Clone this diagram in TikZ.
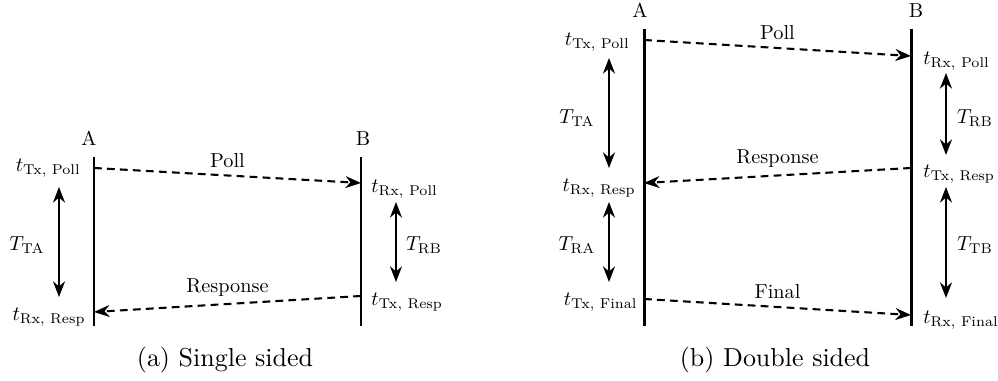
\documentclass[tikz,border=0pt]{standalone}
\usepackage{amsmath}
\usetikzlibrary{arrows.meta}
\tikzset{
  lifeline/.style={line width=1.15pt},
  msgarrow/.style={-{Stealth[length=6pt,width=4.6pt]}, line width=0.8pt, dash pattern=on 3pt off 2pt},
  spanarrow/.style={{Stealth[length=6pt,width=4.6pt]}-{Stealth[length=6pt,width=4.6pt]}, line width=0.9pt},
  lbl/.style={inner sep=0pt, font=\normalsize, scale=0.78},
  capt/.style={inner sep=0pt, anchor=base, font=\normalsize}
}

\begin{document}
\begin{tikzpicture}[x=0.385pt, y=-0.385pt]
\useasboundingbox (0,0) rectangle (998,381);

% (a) single sided
\draw[lifeline] (94,157) coordinate (aAtop) -- (94,326) coordinate (aAbot);
\draw[lifeline] (361,157) coordinate (aBtop) -- (361,326) coordinate (aBbot);
\node[lbl, anchor=base] (aA) at (89,146) {A};
\node[lbl, anchor=base] (aB) at (363,146) {B};

\coordinate (aTxPoll) at (94,168);
\coordinate (aRxPoll) at (361,183);
\coordinate (aTxResp) at (361,296);
\coordinate (aRxResp) at (94,312);

\draw[msgarrow] (aTxPoll) -- (aRxPoll) node[lbl, pos=0.5, above=3.5pt] (aPoll) {Poll};
\draw[msgarrow] (aTxResp) -- (aRxResp) node[lbl, pos=0.5, above=3.5pt] (aResp) {Response};

\node[lbl, anchor=east] (aTxPollL) at (81,168) {$t_{\text{Tx, Poll}}$};
\node[lbl, anchor=west] (aRxPollL) at (371,189) {$t_{\text{Rx, Poll}}$};
\node[lbl, anchor=west] (aTxRespL) at (371,302) {$t_{\text{Tx, Resp}}$};
\node[lbl, anchor=east] (aRxRespL) at (86,317) {$t_{\text{Rx, Resp}}$};

\coordinate (aTAtop) at (59,187);
\coordinate (aTAbot) at (59,297);
\coordinate (aRBtop) at (396,202);
\coordinate (aRBbot) at (396,282);
\draw[spanarrow] (aTAtop) -- (aTAbot);
\draw[spanarrow] (aRBtop) -- (aRBbot);
\node[lbl] (aTTA) at (27,245) {$T_{\mathrm{TA}}$};
\node[lbl] (aTRB) at (424,245) {$T_{\mathrm{RB}}$};

\node[capt] (capa) at (225,367) {(a) Single sided};

% (b) double sided
\draw[lifeline] (644,29) coordinate (bAtop) -- (644,326) coordinate (bAbot);
\draw[lifeline] (911,29) coordinate (bBtop) -- (911,326) coordinate (bBbot);
\node[lbl, anchor=base] (bA) at (640,18) {A};
\node[lbl, anchor=base] (bB) at (916,18) {B};

\coordinate (bTxPoll) at (644,40);
\coordinate (bRxPoll) at (911,56);
\coordinate (bTxResp) at (911,168);
\coordinate (bRxResp) at (644,183);
\coordinate (bTxFinal) at (644,299);
\coordinate (bRxFinal) at (911,315);

\draw[msgarrow] (bTxPoll) -- (bRxPoll) node[lbl, pos=0.5, above=3.5pt] (bPoll) {Poll};
\draw[msgarrow] (bTxResp) -- (bRxResp) node[lbl, pos=0.5, above=3.5pt] (bResp) {Response};
\draw[msgarrow] (bTxFinal) -- (bRxFinal) node[lbl, pos=0.5, above=3.5pt] (bFinal) {Final};

\node[lbl, anchor=east] (bTxPollL) at (630,42) {$t_{\text{Tx, Poll}}$};
\node[lbl, anchor=west] (bRxPollL) at (923,61) {$t_{\text{Rx, Poll}}$};
\node[lbl, anchor=west] (bTxRespL) at (923,174) {$t_{\text{Tx, Resp}}$};
\node[lbl, anchor=east] (bRxRespL) at (636,188) {$t_{\text{Rx, Resp}}$};
\node[lbl, anchor=east] (bTxFinalL) at (638,302) {$t_{\text{Tx, Final}}$};
\node[lbl, anchor=west] (bRxFinalL) at (923,320) {$t_{\text{Rx, Final}}$};

\coordinate (bTAtop) at (609,58);
\coordinate (bTAbot) at (609,168);
\coordinate (bRAtop) at (609,202);
\coordinate (bRAbot) at (609,282);
\coordinate (bRBtop) at (946,73);
\coordinate (bRBbot) at (946,155);
\coordinate (bTBtop) at (946,187);
\coordinate (bTBbot) at (946,298);
\foreach \a/\b in {bTAtop/bTAbot, bRAtop/bRAbot, bRBtop/bRBbot, bTBtop/bTBbot}
  \draw[spanarrow] (\a) -- (\b);
\node[lbl] (bTTA) at (577,118) {$T_{\mathrm{TA}}$};
\node[lbl] (bTRA) at (577,245) {$T_{\mathrm{RA}}$};
\node[lbl] (bTRB) at (975,118) {$T_{\mathrm{RB}}$};
\node[lbl] (bTTB) at (975,245) {$T_{\mathrm{TB}}$};

\node[capt] (capb) at (775,367) {(b) Double sided};
\end{tikzpicture}
\end{document}
